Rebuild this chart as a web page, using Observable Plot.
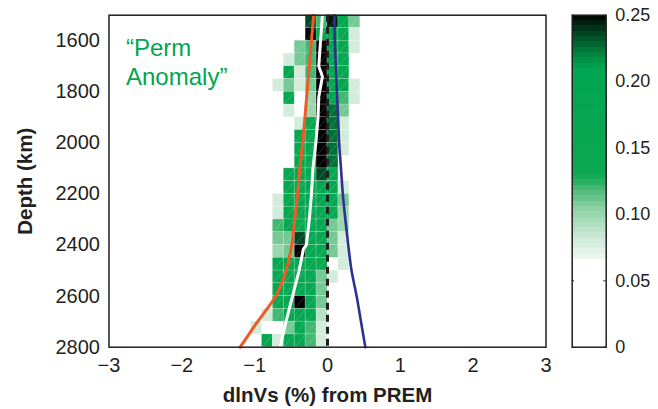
<!DOCTYPE html>
<html>
<head>
<meta charset="utf-8">
<script src="https://cdn.jsdelivr.net/npm/d3@7"></script>
<script src="https://cdn.jsdelivr.net/npm/@observablehq/plot@0.6"></script>
<style>
  html, body { margin: 0; padding: 0; background: #fff; }
  #chart { position: relative; width: 658px; height: 409px; overflow: hidden; }
  #chart svg { position: absolute; top: 0; }
</style>
</head>
<body>
<div id="chart"></div>
<script>
// ---------- DATA ----------
// dlnVs (%) bin lower edges of the histogram columns that carry density
const binLeft = [-1.05, -0.9, -0.75, -0.6, -0.45, -0.3, -0.15, 0, 0.15, 0.3];
const binWidth = 0.15;
// depth (km) bin tops
const depthTop = [1500, 1550, 1600, 1650, 1700, 1750, 1800, 1850, 1900, 1950, 2000, 2050, 2100,
                  2150, 2200, 2250, 2300, 2350, 2400, 2450, 2500, 2550, 2600, 2650, 2700, 2750];
const depthStep = 50;
// probability density per cell (rows = depth bins, cols = dlnVs bins); 0 = below colour threshold
const density = [
  [0, 0, 0, 0, 0, 0.235, 0.12, 0.245, 0.17, 0.11],
  [0, 0, 0, 0, 0, 0.25, 0.17, 0.18, 0.17, 0.08],
  [0, 0, 0, 0, 0.11, 0.12, 0.25, 0.18, 0.17, 0.08],
  [0, 0, 0, 0.08, 0.11, 0.12, 0.25, 0.18, 0.17, 0],
  [0, 0, 0, 0.16, 0.08, 0.12, 0.25, 0.17, 0.17, 0],
  [0, 0, 0.08, 0.11, 0.08, 0.11, 0.25, 0.18, 0.17, 0.08],
  [0, 0, 0, 0.16, 0, 0.10, 0.25, 0.20, 0.12, 0.08],
  [0, 0, 0, 0.08, 0, 0.10, 0.25, 0.225, 0.11, 0],
  [0, 0, 0, 0, 0.08, 0.16, 0.25, 0.225, 0.08, 0],
  [0, 0, 0, 0, 0.16, 0.17, 0.25, 0.225, 0.08, 0],
  [0, 0, 0, 0, 0.17, 0.17, 0.25, 0.225, 0.08, 0],
  [0, 0, 0, 0, 0.17, 0.17, 0.25, 0.225, 0, 0],
  [0, 0, 0, 0.16, 0.17, 0.17, 0.235, 0.19, 0, 0],
  [0, 0, 0, 0.16, 0.17, 0.17, 0.18, 0.17, 0.08, 0],
  [0, 0, 0.08, 0.16, 0.17, 0.17, 0.18, 0.17, 0.11, 0],
  [0, 0, 0.08, 0.16, 0.17, 0.17, 0.17, 0.15, 0.10, 0],
  [0, 0, 0.12, 0.16, 0.14, 0.17, 0.17, 0.11, 0.10, 0],
  [0, 0, 0.11, 0.11, 0.235, 0.17, 0.17, 0.11, 0.08, 0],
  [0, 0, 0.10, 0.11, 0.25, 0.17, 0.17, 0.11, 0.08, 0],
  [0, 0, 0.16, 0.16, 0.17, 0.17, 0.13, 0, 0.08, 0],
  [0, 0, 0.16, 0.17, 0.17, 0.17, 0.11, 0.08, 0, 0],
  [0, 0, 0.17, 0.17, 0.17, 0.17, 0.11, 0, 0, 0],
  [0, 0, 0.17, 0.17, 0.25, 0.17, 0.11, 0, 0, 0],
  [0, 0.08, 0.12, 0.17, 0.17, 0.17, 0.09, 0, 0, 0],
  [0.08, 0, 0, 0.11, 0.17, 0.12, 0.08, 0, 0, 0],
  [0, 0.16, 0.08, 0.17, 0.17, 0.12, 0.08, 0, 0, 0]
];

// profiles (dlnVs % vs depth km)
const orangeDepth = [1500, 1600, 1700, 1800, 1900, 2000, 2100, 2200, 2300, 2400, 2500, 2550, 2600, 2650, 2700, 2750, 2800];
const orangeVs    = [-0.19, -0.22, -0.25, -0.28, -0.31, -0.34, -0.38, -0.41, -0.45, -0.49, -0.57, -0.63, -0.71, -0.83, -0.96, -1.08, -1.2];
const whiteDepth  = [1500, 1600, 1700, 1740, 1820, 1900, 2000, 2100, 2200, 2300, 2400, 2415, 2500, 2600, 2700, 2800];
const whiteVs     = [-0.07, -0.095, -0.12, -0.07, -0.12, -0.13, -0.16, -0.20, -0.22, -0.25, -0.29, -0.33, -0.39, -0.48, -0.57, -0.65];
const blueDepth   = [1500, 1600, 1700, 1800, 1900, 2000, 2100, 2200, 2300, 2400, 2500, 2600, 2700, 2800];
const blueVs      = [0.095, 0.10, 0.115, 0.13, 0.145, 0.16, 0.185, 0.21, 0.245, 0.285, 0.33, 0.40, 0.46, 0.52];
const zeroLine = [0];

// ticks and labels
const xTicks = [-3, -2, -1, 0, 1, 2, 3];
const yTicks = [1600, 1800, 2000, 2200, 2400, 2600, 2800];
const cbTicks = [0, 0.05, 0.10, 0.15, 0.20, 0.25];
const xTitle = "dlnVs (%) from PREM";
const yTitle = "Depth (km)";
const annotation = "\u201cPerm\nAnomaly\u201d";

// ---------- BUILD ----------
const FONT = "'Liberation Sans', Arimo, Arial, Helvetica, sans-serif";
const INK = "#231f20";
const colorScale = {
  type: "linear",
  domain: [0.066, 0.08, 0.095, 0.105, 0.115, 0.13, 0.21, 0.22, 0.23, 0.24, 0.25],
  range: ["#eef8f1", "#d2ecdb", "#a8dbba", "#8ad0a3", "#5cbf83", "#0ba84f", "#00a651", "#00843e", "#005e2d", "#00341a", "#000000"],
  clamp: true
};

const cells = [];
density.forEach((row, j) => row.forEach((v, i) => {
  if (v > 0) cells.push({x1: binLeft[i], x2: binLeft[i] + binWidth, d1: depthTop[j], d2: depthTop[j] + depthStep, v});
}));
const toPts = (ds, vs) => ds.map((d, k) => ({d, v: vs[k]}));

const main = Plot.plot({
  width: 560, height: 409,
  marginLeft: 108.5, marginRight: 14.5, marginTop: 14.7, marginBottom: 62.3,
  style: {fontFamily: FONT, fontSize: "20px", color: INK, background: "transparent"},
  x: {domain: [-3, 3]},
  y: {domain: [1500, 2800], reverse: true},
  color: colorScale,
  marks: [
    Plot.rect(cells, {x1: "x1", x2: "x2", y1: "d1", y2: "d2", fill: "v", stroke: "white", strokeOpacity: 0.3, strokeWidth: 0.6}),
    Plot.link(cells, {x1: "x1", y1: "d2", x2: "x2", y2: "d1", stroke: "white", strokeOpacity: 0.3, strokeWidth: 0.6}),
    Plot.line(toPts(orangeDepth, orangeVs), {x: "v", y: "d", stroke: "#f15a24", strokeWidth: 3, curve: "monotone-y"}),
    Plot.line(toPts(whiteDepth, whiteVs), {x: "v", y: "d", stroke: "#ffffff", strokeWidth: 3}),
    Plot.line(toPts(blueDepth, blueVs), {x: "v", y: "d", stroke: "#2e3192", strokeWidth: 2.6, curve: "monotone-y"}),
    Plot.ruleX(zeroLine, {stroke: INK, strokeWidth: 3, strokeDasharray: "7,5"}),
    Plot.frame({stroke: INK, strokeWidth: 1.5}),
    Plot.axisX({ticks: xTicks, tickSize: 0, tickPadding: 11, tickFormat: "d", label: null}),
    Plot.axisY({ticks: yTicks, tickSize: 0, tickPadding: 9, tickFormat: "d", label: null}),
    Plot.text([xTitle], {text: d => d, frameAnchor: "bottom", dy: 55, fontWeight: "bold", fontSize: 20.5, fill: INK}),
    Plot.text([yTitle], {text: d => d, frameAnchor: "left", dx: -84, rotate: -90, textAnchor: "middle", fontWeight: "bold", fontSize: 20.5, fill: INK}),
    Plot.text([annotation], {text: d => d, frameAnchor: "top-left", dx: 17, dy: 20, lineAnchor: "top", textAnchor: "start", fill: "#00a651", fontSize: 24, lineHeight: 1.22})
  ]
});
main.style.left = "0px";

const nBands = 46;
const lo = 0.066, hi = 0.25, step = (hi - lo) / nBands;
const bands = d3.range(nBands).map(k => ({y1: lo + k * step, y2: lo + (k + 1) * step, v: lo + (k + 0.5) * step}));

const bar = Plot.plot({
  width: 98, height: 409,
  marginLeft: 11.7, marginRight: 52.3, marginTop: 14.7, marginBottom: 62.3,
  style: {fontFamily: FONT, fontSize: "18px", color: INK, background: "transparent"},
  x: {domain: [0, 1], axis: null},
  y: {domain: [0, 0.25]},
  color: colorScale,
  marks: [
    Plot.ruleY(cbTicks, {x1: 0, x2: 0.07, stroke: INK}),
    Plot.ruleY(cbTicks, {x1: 0.93, x2: 1, stroke: INK}),
    Plot.rect(bands, {x1: 0, x2: 1, y1: "y1", y2: "y2", fill: "v", shapeRendering: "crispEdges"}),
    Plot.frame({stroke: INK, strokeWidth: 1.5}),
    Plot.axisY({anchor: "right", ticks: cbTicks, tickSize: 0, tickPadding: 9,
      tickFormat: d => d === 0 ? "0" : d3.format(".2f")(d), label: null})
  ]
});
bar.style.left = "560px";

document.getElementById("chart").append(main, bar);
</script>
</body>
</html>
